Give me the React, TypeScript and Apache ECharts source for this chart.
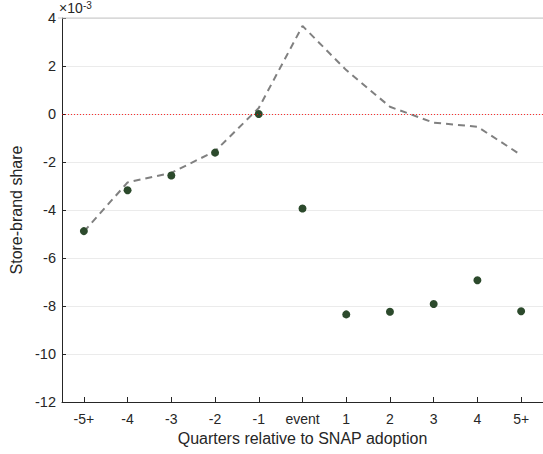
import React, { useEffect, useRef } from "react";
import * as echarts from "echarts";

const categories = ["-5+", "-4", "-3", "-2", "-1", "event", "1", "2", "3", "4", "5+"];
const pointValues = [-4.88, -3.18, -2.56, -1.61, 0.0, -3.94, -8.35, -8.24, -7.92, -6.93, -8.22];
const dashedValues = [-4.9, -2.85, -2.45, -1.55, 0.25, 3.67, 1.83, 0.3, -0.36, -0.53, -1.71];
const yTicks = [-12, -10, -8, -6, -4, -2, 0, 2, 4];

export default function App() {
  const ref = useRef<HTMLDivElement>(null);
  useEffect(() => {
    document.body.style.margin = "0";
    const chart = echarts.init(ref.current!, undefined, { renderer: "svg" });
    const font = "Liberation Sans, Arial, Helvetica, sans-serif";
    chart.setOption({
      animation: false,
      backgroundColor: "#ffffff",
      grid: { left: 58, top: 18, width: 486, height: 384, containLabel: false },
      xAxis: {
        type: "category",
        data: categories,
        boundaryGap: true,
        axisLine: { show: true, onZero: false, lineStyle: { color: "#262626", width: 1 } },
        axisTick: { show: true, inside: true, alignWithLabel: true, interval: 0, length: 5, lineStyle: { color: "#262626" } },
        axisLabel: { color: "#262626", fontSize: 14, fontFamily: font, margin: 10, interval: 0, hideOverlap: false },
        splitLine: { show: false },
        name: "Quarters relative to SNAP adoption",
        nameLocation: "middle",
        nameGap: 28,
        nameTextStyle: { color: "#262626", fontSize: 16, fontFamily: font },
      },
      yAxis: {
        type: "value",
        min: -12,
        max: 4,
        interval: 2,
        axisLine: { show: true, lineStyle: { color: "#262626", width: 1 } },
        axisTick: { show: true, inside: true, length: 4, lineStyle: { color: "#262626" } },
        axisLabel: {
          color: "#262626",
          fontSize: 14.5,
          fontFamily: font,
          margin: 6,
          formatter: (v: number) => (yTicks.includes(v) ? String(v) : ""),
        },
        splitLine: { show: true, lineStyle: { color: "#ebebeb", width: 1 } },
        name: "Store-brand share",
        nameLocation: "middle",
        nameGap: 38,
        nameRotate: 90,
        nameTextStyle: { color: "#262626", fontSize: 16, fontFamily: font },
      },
      graphic: [
        {
          type: "text",
          left: 59,
          top: 1,
          style: { text: "×10", fill: "#262626", fontSize: 14, fontFamily: font },
        },
        {
          type: "text",
          left: 83,
          top: 0,
          style: { text: "-3", fill: "#262626", fontSize: 10, fontFamily: font },
        },
        {
          type: "line",
          shape: { x1: 58, y1: 18, x2: 543, y2: 18 },
          style: { stroke: "#c8c8c8", lineWidth: 1 },
          z: 1,
        },
      ],
      series: [
        {
          type: "line",
          data: dashedValues,
          symbol: "none",
          lineStyle: { color: "#808080", width: 2, type: [7, 5] },
          z: 2,
          markLine: {
            silent: true,
            symbol: "none",
            label: { show: false },
            lineStyle: { color: "#ff0000", type: [1, 2], width: 1, opacity: 0.8 },
            data: [{ yAxis: 0 }],
          },
        },
        {
          type: "scatter",
          data: pointValues,
          symbol: "circle",
          symbolSize: 8,
          itemStyle: { color: "#2c4a2c", opacity: 1 },
          z: 3,
        },
      ],
    });
    return () => chart.dispose();
  }, []);
  return <div ref={ref} style={{ width: 543, height: 454 }} />;
}
